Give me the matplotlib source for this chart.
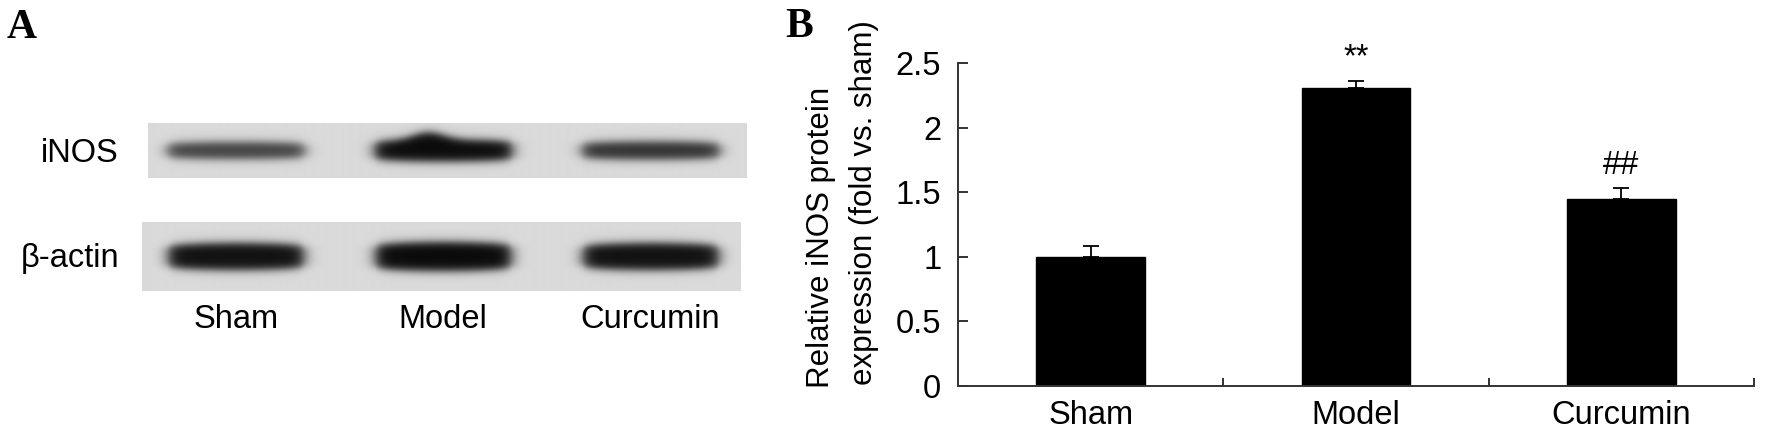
import numpy as np
import matplotlib
matplotlib.use('Agg')
import matplotlib.pyplot as plt

# bar chart data (panel B)
groups = ['Sham', 'Model', 'Curcumin']
inos_rel = [1.00, 2.31, 1.45]
inos_err = [0.08, 0.05, 0.08]
marks = ['', '**', '##']
yticks = [0, 0.5, 1, 1.5, 2, 2.5]
ytick_labels = ['0', '0.5', '1', '1.5', '2', '2.5']

# western blot (panel A), relative band density per lane
blot_rows = ['iNOS', 'β-actin']
inos_band = [0.74, 1.0, 0.82]
actin_band = [0.97, 1.0, 0.97]

plt.rcParams['font.family'] = ['Liberation Sans', 'DejaVu Sans']

W, H = 1769, 441
fig = plt.figure(figsize=(W / 100, H / 100), dpi=100)

# ---------------- panel A ----------------
axa = fig.add_axes([0, 0, 760 / W, 1])
axa.set_xlim(0, 760)
axa.set_ylim(H, 0)
axa.axis('off')

lane_x = [236 + 207 * i for i in range(3)]
BG = 0.855
DARK = 0.04


def membrane(ax, x0, x1, y0, y1, levels, thick, band_w, lift=None):
    xs = np.arange(x0, x1) + 0.5
    ys = np.arange(y0, y1) + 0.5
    X, Y = np.meshgrid(xs, ys)
    yc = (y0 + y1) / 2
    dens = np.zeros_like(X)
    if lift is None:
        lift = [0] * len(levels)
    for lx, lv, th, lf in zip(lane_x, levels, thick, lift):
        dx = np.abs(X - lx) / (band_w / 2)
        th_eff = th * (0.7 + 0.3 * np.sqrt(np.clip(1 - dx ** 2, 0, 1)))
        # some bands bulge upward a little left of the lane centre
        top = th_eff / 2 + lf * np.exp(-((X - lx + 15) / 22) ** 2)
        hx = 1 / (1 + np.exp((np.abs(X - lx) - band_w / 2) / 4))
        up = 1 / (1 + np.exp(((yc - Y) - top) / 2.5))
        down = 1 / (1 + np.exp(((Y - yc) - th_eff / 2) / 2.5))
        dens = np.maximum(dens, lv * hx * up * down)
    img = BG * (1 - dens) + DARK * dens
    ax.imshow(img, cmap='gray', vmin=0, vmax=1, extent=(x0, x1, y1, y0),
              interpolation='bilinear', aspect='auto')


membrane(axa, 148, 746, 123, 178, inos_band, [17, 22, 18], 138, lift=[0, 7, 0])
membrane(axa, 142, 740, 222, 291, actin_band, [27, 29, 27], 136)
axa.set_xlim(0, 760)
axa.set_ylim(H, 0)

axa.text(119, 153, blot_rows[0], ha='right', va='center', fontsize=23.5)
axa.text(119, 258, blot_rows[1], ha='right', va='center', fontsize=23.5)
for i, g in enumerate(groups):
    axa.text(lane_x[i], 320, g, ha='center', va='center', fontsize=23.5)

fig.text(7 / W, 1 - 38 / H, 'A', family='Liberation Serif', weight='bold',
         fontsize=30, va='baseline', ha='left')

# ---------------- panel B ----------------
ax = fig.add_axes([958 / W, 1 - 386 / H, (1754 - 958) / W, (386 - 63) / H])
x = np.arange(len(groups))
ax.bar(x, inos_rel, width=0.41, color='black', edgecolor='black',
       yerr=[np.zeros(len(inos_err)), inos_err],
       error_kw=dict(ecolor='black', elinewidth=1.3, capsize=6, capthick=1.3))
for xi, v, e, m in zip(x, inos_rel, inos_err, marks):
    if m:
        ax.text(xi, v + e + 0.18, m, ha='center', va='center', fontsize=23.5)

ax.set_xlim(-0.5, 2.5)
ax.set_ylim(0, 2.5)
ax.set_yticks(yticks)
ax.set_yticklabels(ytick_labels)
ax.set_xticks(x)
ax.set_xticklabels(groups)
ax.set_xticks([0.5, 1.5, 2.5], minor=True)
for s in ['top', 'right']:
    ax.spines[s].set_visible(False)
for s in ['left', 'bottom']:
    ax.spines[s].set_color('#333333')
    ax.spines[s].set_linewidth(1.4)
ax.tick_params(axis='y', direction='in', length=7, width=1.4, color='#333333',
               labelsize=23.5, pad=12)
ax.tick_params(axis='x', which='major', length=0, labelsize=23.5, pad=10)
ax.tick_params(axis='x', which='minor', direction='in', length=6, width=1.4,
               color='#333333')

fig.text(821 / W, 1 - 388 / H, 'Relative iNOS protein', rotation=90,
         ha='center', va='bottom', fontsize=22.5)
fig.text(864 / W, 1 - 385 / H, 'expression (fold vs. sham)', rotation=90,
         ha='center', va='bottom', fontsize=22.5)
fig.text(785 / W, 1 - 37 / H, 'B', family='Liberation Serif', weight='bold',
         fontsize=30, va='baseline', ha='left')

fig.savefig('out.png', dpi=100, facecolor='white')
